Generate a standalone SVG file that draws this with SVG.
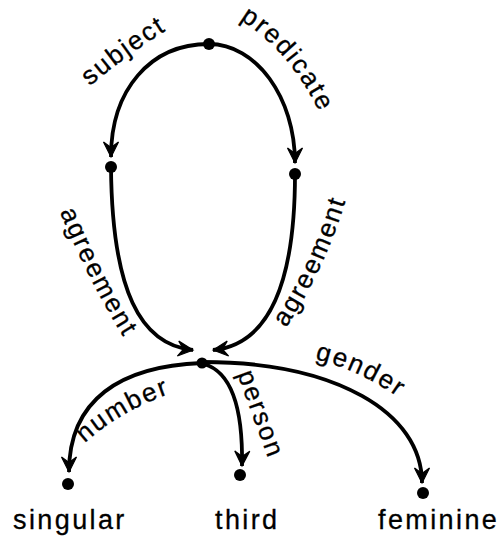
<svg xmlns="http://www.w3.org/2000/svg" width="498" height="540" viewBox="0 0 498 540">
<style>
.edge{fill:none;stroke:#000;stroke-width:3.8;stroke-linecap:butt;marker-end:url(#arr)}
.node{fill:#000}
.lbl{font-family:"Liberation Sans",Arial,sans-serif;font-size:26px;letter-spacing:2px;fill:#000;stroke:#000;stroke-width:0.3}
.val{font-family:"Liberation Sans",Arial,sans-serif;font-size:27px;letter-spacing:2.4px;fill:#000;stroke:#000;stroke-width:0.3}
</style>
<defs>
<marker id="arr" markerUnits="userSpaceOnUse" viewBox="-18 -9 20 18" refX="0" refY="0" markerWidth="20" markerHeight="18" orient="auto">
<path d="M0,0 L-15,-7.5 L-9.5,0 L-15,7.5 Z" fill="#000" stroke="#000" stroke-width="1.2" stroke-linejoin="miter"/>
</marker>
<path id="p-subject" d="M88,88 Q125,56 170,28"/>
<path id="p-predicate" d="M240,20 Q288,49 320,113"/>
<path id="p-agl" d="M60,212 Q88,280 124,338"/>
<path id="p-agr" d="M284,331 Q325,270 347,196"/>
<path id="p-number" d="M86,442 Q121,411 169,394"/>
<path id="p-person" d="M238,376 Q252,415 268,458"/>
<path id="p-gender" d="M318,360 Q360,371 396,396"/>
</defs>
<g id="connectors">
<path id="e-subject" class="edge" d="M209,44 C150,44 111,90 111,157"/>
<path id="e-predicate" class="edge" d="M209,44 C256,44 295,97 295,163"/>
<path id="e-agl" class="edge" d="M111,167 C112,290 140,345 193,350"/>
<path id="e-agr" class="edge" d="M295,174 C295,290 265,345 213,350"/>
<path id="e-number" class="edge" d="M202,363 C120,366 69,400 69,472"/>
<path id="e-person" class="edge" d="M204,364 C232,372 243,410 242,466"/>
<path id="e-gender" class="edge" d="M203,362 C335,362 422,412 422,483"/>
<text class="lbl"><textPath href="#p-subject" startOffset="50%" text-anchor="middle">subject</textPath></text>
<text class="lbl"><textPath href="#p-predicate" startOffset="50%" text-anchor="middle">predicate</textPath></text>
<text class="lbl"><textPath href="#p-agl" startOffset="50%" text-anchor="middle">agreement</textPath></text>
<text class="lbl"><textPath href="#p-agr" startOffset="50%" text-anchor="middle">agreement</textPath></text>
<text class="lbl"><textPath href="#p-number" startOffset="50%" text-anchor="middle">number</textPath></text>
<text class="lbl"><textPath href="#p-person" startOffset="50%" text-anchor="middle">person</textPath></text>
<text class="lbl"><textPath href="#p-gender" startOffset="50%" text-anchor="middle">gender</textPath></text>
</g>
<g id="n-top"><circle class="node" cx="209" cy="44" r="6"/></g>
<g id="n-subj"><circle class="node" cx="111" cy="167" r="6"/></g>
<g id="n-pred"><circle class="node" cx="295" cy="174" r="6"/></g>
<g id="n-agr"><circle class="node" cx="202" cy="363" r="5.5"/></g>
<g id="n-singular"><circle class="node" cx="68" cy="484" r="6"/><text class="val" x="13" y="529">singular</text></g>
<g id="n-third"><circle class="node" cx="240" cy="475" r="6"/><text class="val" x="215" y="529">third</text></g>
<g id="n-feminine"><circle class="node" cx="423" cy="493" r="6"/><text class="val" x="378" y="529">feminine</text></g>
</svg>
